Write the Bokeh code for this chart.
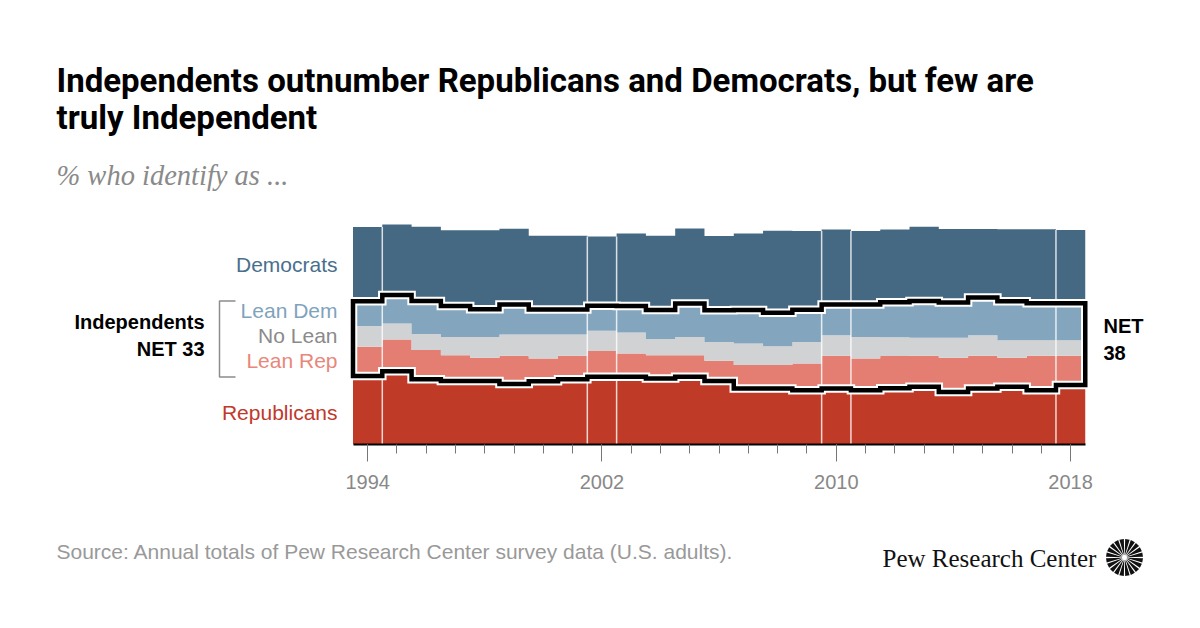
import numpy as np
from bokeh.plotting import figure
from bokeh.models import Range1d, FixedTicker
from bokeh.layouts import column
from bokeh.core.properties import value
from bokeh.embed import file_html
from bokeh.resources import INLINE

# ---------------- data (% who identify as ...) ----------------
years = list(range(1994, 2019))
republicans = [31.1, 33.3, 29.7, 28.9, 28.9, 27.5, 28.8, 29.7, 30.8, 30.8, 30.0, 30.8, 28.9,
               25.5, 25.5, 24.7, 25.5, 24.7, 25.6, 26.2, 23.9, 25.5, 26.2, 24.7, 27.0]
lean_rep = [13.3, 14.4, 13.2, 11.7, 10.5, 12.8, 10.3, 10.6, 11.7, 10.6, 10.6, 9.8, 9.2,
            10.6, 10.6, 12.1, 14.8, 14.4, 14.6, 14.1, 15.5, 14.8, 13.2, 15.6, 13.3]
no_lean = [9.5, 7.3, 7.3, 8.3, 9.5, 9.7, 10.9, 9.7, 9.2, 9.5, 7.3, 8.3, 8.5,
           9.8, 8.6, 9.8, 9.4, 9.8, 8.6, 8.2, 9.1, 9.4, 8.0, 7.1, 7.1]
lean_dem = [11.2, 12.9, 15.0, 14.1, 12.6, 13.6, 11.4, 11.4, 11.4, 12.1, 13.2, 15.2, 14.4,
            15.2, 15.2, 14.7, 13.9, 14.7, 15.9, 16.7, 16.1, 17.1, 17.7, 16.8, 16.8]
democrats = [33.8, 32.1, 33.8, 34.4, 35.9, 34.5, 33.5, 33.5, 31.5, 32.9, 33.8, 34.1, 33.8,
             34.8, 37.3, 35.8, 34.1, 33.5, 33.0, 33.8, 33.3, 31.1, 32.7, 33.6, 33.3]
tick_years = [1994, 2002, 2010, 2018]
series_names = ["Republicans", "Lean Rep", "No Lean", "Lean Dem", "Democrats"]
net_first, net_last = 33, 38

fill_colors = ["#c03a28", "#e47d72", "#d1d2d4", "#83a6be", "#466983"]
label_colors = ["#c0392b", "#e8877b", "#8a8a8a", "#7fa3bd", "#4a6f8c"]

# ---------------- layout (page pixels) ----------------
W = 1200
H_MAIN = 500
H_FOOT = 128
BASE_Y = 444.0          # page y of the 0 % baseline
LEFT_PX = 352.5         # page x of 1993.5
PX_YEAR = 29.29         # pixels per year
PX_PCT = 2.2            # pixels per percentage point
FONT = "Liberation Sans"
TITLE_FONT = "Roboto"

XS = (years[0] - 0.5) - LEFT_PX / PX_YEAR
XE = XS + W / PX_YEAR
YE = BASE_Y / PX_PCT


def X(px):
    return XS + px / PX_YEAR


def Y(py):
    return (BASE_Y - py) / PX_PCT


p = figure(width=W, height=H_MAIN, x_range=Range1d(XS, XE), y_range=Range1d(0, YE),
           output_backend="svg", toolbar_location=None, y_axis_location=None,
           min_border_left=0, min_border_right=0, min_border_top=0,
           min_border_bottom=H_MAIN - int(BASE_Y))
p.outline_line_color = None
p.xgrid.visible = False
p.ygrid.visible = False

# ---------------- stacked step areas ----------------
yrs = np.array(years, dtype=float)
xs = np.column_stack([yrs - 0.5, yrs + 0.5]).ravel()


def rep2(a):
    return np.repeat(np.asarray(a, dtype=float), 2)


stack = [republicans, lean_rep, no_lean, lean_dem, democrats]
lower = np.zeros(len(years))
bounds = []
for vals, col in zip(stack, fill_colors):
    upper = lower + np.asarray(vals, dtype=float)
    p.varea(x=xs, y1=rep2(lower), y2=rep2(upper), fill_color=col)
    bounds.append((lower.copy(), upper.copy()))
    lower = upper
total = lower

# white separators around highlighted years
sx, sy0, sy1 = [], [], []
for h in tick_years:
    for e in (h - 0.5, h + 0.5):
        if years[0] - 0.5 < e < years[-1] + 0.5:
            i = int(round(e - 0.5)) - years[0]
            sx.append(e)
            sy0.append(0)
            sy1.append(min(total[i], total[i + 1]))
p.segment(x0=sx, y0=sy0, x1=sx, y1=sy1, line_color="white", line_width=1.5, line_alpha=0.8)

# outline of independents band
ind_bottom = bounds[1][0]
ind_top = bounds[3][1]
ox = np.concatenate([xs, xs[::-1]])
oy = np.concatenate([rep2(ind_top), rep2(ind_bottom)[::-1]])
p.patch(ox, oy, fill_color=None, line_color="white", line_width=8.5, line_join="miter")
p.patch(ox, oy, fill_color=None, line_color="black", line_width=4.5, line_join="miter")

# ---------------- axis ----------------
ax = p.xaxis[0]
ax.bounds = (years[0] - 0.5, years[-1] + 0.5)
ax.ticker = FixedTicker(ticks=tick_years, minor_ticks=years)
ax.axis_line_color = "black"
ax.axis_line_width = 2
ax.major_tick_line_color = "#777777"
ax.minor_tick_line_color = "#777777"
ax.major_tick_out = 17
ax.major_tick_in = 0
ax.minor_tick_out = 9
ax.minor_tick_in = 0
ax.major_label_text_font = FONT
ax.major_label_text_font_size = "20px"
ax.major_label_text_color = "#888888"
ax.major_label_standoff = 13


# ---------------- texts (y = visual centre of the capitals) ----------------
def txt(fig, fx, fy, text, size, color, align="left", style="normal", font=FONT):
    fig.text(x=[fx], y=[fy], text=[text], text_font=value(font), text_font_size=value(size),
             text_color=color, text_align=align, text_baseline="alphabetic",
             text_font_style=style)


txt(p, X(56), Y(80), "Independents outnumber Republicans and Democrats, but few are", "33px",
    "black", style="bold", font=TITLE_FONT)
txt(p, X(56), Y(117), "truly Independent", "33px", "black", style="bold", font=TITLE_FONT)
txt(p, X(56), Y(175), "% who identify as ...", "28.5px", "#8a8a8a", style="italic",
    font="Liberation Serif")

label_centres = [412, 360, 334.5, 310, 263.5]
for name, col, c in zip(series_names, label_colors, label_centres):
    txt(p, X(337), Y(c), name, "21px", col, align="right")

txt(p, X(204), Y(321), "Independents", "20px", "black", align="right", style="bold")
txt(p, X(204), Y(348), f"NET {net_first}", "20px", "black", align="right", style="bold")
txt(p, X(1103), Y(325), "NET", "20px", "black", style="bold")
txt(p, X(1103), Y(352), f"{net_last}", "20px", "black", style="bold")

# bracket
bx = [235, 219, 219, 235]
by = [300.5, 300.5, 376.5, 376.5]
p.line(x=[X(v) for v in bx], y=[Y(v) for v in by], line_color="#8c8c8c", line_width=1.5)

# ---------------- footer ----------------
f = figure(width=W, height=H_FOOT, x_range=Range1d(0, W), y_range=Range1d(0, H_FOOT),
           output_backend="svg", toolbar_location=None, x_axis_location=None,
           y_axis_location=None, min_border_left=0, min_border_right=0,
           min_border_top=0, min_border_bottom=0)
f.outline_line_color = None
f.xgrid.visible = False
f.ygrid.visible = False


def FY(py):
    return (H_MAIN + H_FOOT) - py


txt(f, 56, FY(551), "Source: Annual totals of Pew Research Center survey data (U.S. adults).",
    "21px", "#999999")
txt(f, 882, FY(558), "Pew Research Center", "25px", "#111111", font="Liberation Serif")

# logo sunburst
cx, cy = 1124, 557
n_rays = 20
rx, ry = [], []
for k in range(n_rays):
    a = np.deg2rad(k * 360 / n_rays + 9)
    wi, wo = np.deg2rad(2.5), np.deg2rad(7.0)
    ri, ro = 2.5, 18.5
    pts = [(ri, a - wi), (ro, a - wo), (ro, a + wo), (ri, a + wi)]
    rx.append([cx + r * np.cos(t) for r, t in pts])
    ry.append([FY(cy - r * np.sin(t)) for r, t in pts])
f.patches(rx, ry, fill_color="#111111", line_color=None)

layout = column(p, f, spacing=0)
open("out.html", "w").write(file_html(layout, INLINE))
